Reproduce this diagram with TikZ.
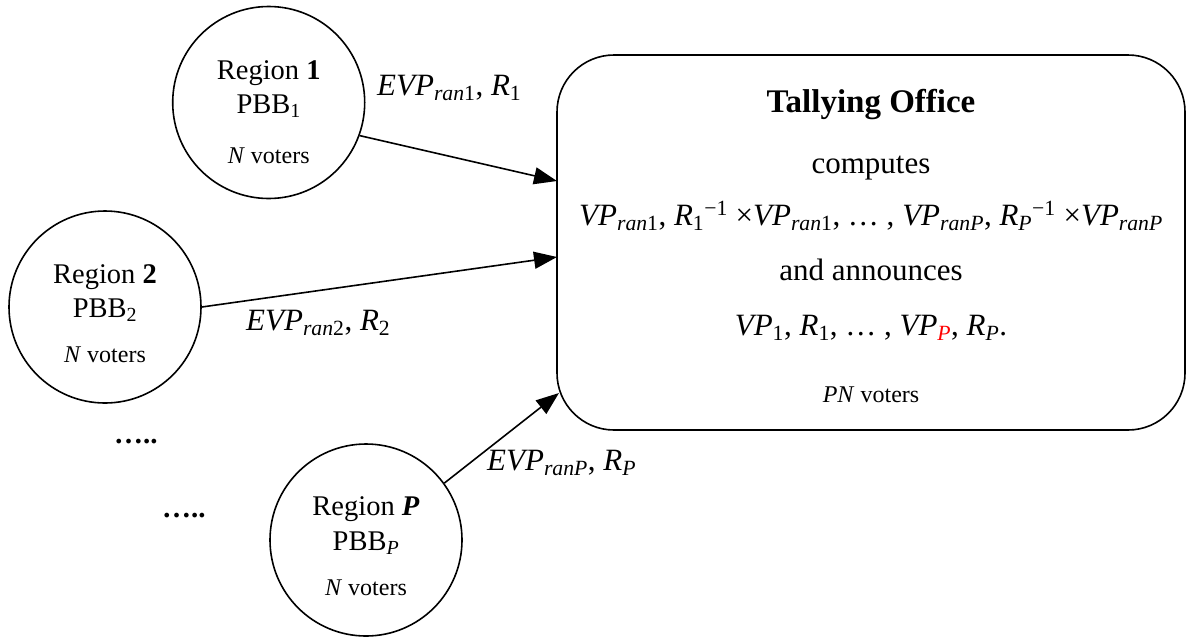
\documentclass[tikz,border=0pt]{standalone}
\usepackage{fontspec}
\setmainfont{Liberation Serif}
\usetikzlibrary{arrows.meta}
\newcommand\myfs[1]{\fontsize{#1}{#1}\selectfont}
\begin{document}
\begin{tikzpicture}[x=1pt,y=-1pt,
  region/.style={draw, circle, line width=1.6pt, minimum size=192pt, inner sep=0pt},
  ctext/.style={anchor=base, inner sep=0pt, font=\myfs{28.5}},
  vtext/.style={anchor=base, inner sep=0pt, font=\myfs{24}},
  btext/.style={anchor=base, inner sep=0pt, font=\myfs{31}},
  ttext/.style={anchor=base, inner sep=0pt, font=\myfs{33}\bfseries},
  lbl/.style={anchor=base west, inner sep=0pt, font=\myfs{31}},
  dots/.style={anchor=base west, inner sep=0pt, font=\myfs{29}\bfseries},
  conn/.style={line width=1.6pt, -{Triangle[length=23pt,width=17pt]}},
  office/.style={draw, line width=1.6pt, rounded corners=57pt, minimum width=628pt, minimum height=375pt, inner sep=0pt}
]
\useasboundingbox (0,0) rectangle (1190,638);

% office box
\node[office] (box) at (871,242.5) {};
\node[ttext] (title) at (871,112) {Tallying Office};
\node[btext] (comp) at (871,173) {computes};
\node[btext] (form) at (871,225) {\textit{VP}\textsubscript{\textit{ran}1}, \textit{R}\textsubscript{1}\textsuperscript{−1} ×\textit{VP}\textsubscript{\textit{ran}1}, … , \textit{VP}\textsubscript{\textit{ranP}}, \textit{R}\textsubscript{\textit{P}}\textsuperscript{−1} ×\textit{VP}\textsubscript{\textit{ranP}}};
\node[btext] (ann) at (871,280) {and announces};
\node[btext] (res) at (871,335) {\textit{VP}\textsubscript{1}, \textit{R}\textsubscript{1}, … , \textit{VP}\textsubscript{\textcolor{red}{\textit{P}}}, \textit{R}\textsubscript{\textit{P}}.};
\node[vtext] (pn) at (871,402) {\textit{PN} voters};

% regions
\node[region] (c1) at (268.7,102.5) {};
\node[ctext] (c1a) at (268.7,79) {Region \textbf{1}};
\node[ctext] (c1b) at (268.7,113) {PBB\textsubscript{1}};
\node[vtext] (c1c) at (268.7,163) {\textit{N} voters};

\node[region] (c2) at (105,307) {};
\node[ctext] (c2a) at (105,283) {Region \textbf{2}};
\node[ctext] (c2b) at (105,317) {PBB\textsubscript{2}};
\node[vtext] (c2c) at (105,362) {\textit{N} voters};

\node[region] (cP) at (366,540) {};
\node[ctext] (cPa) at (366,515) {Region \textbf{\textit{P}}};
\node[ctext] (cPb) at (366,550) {PBB\textsubscript{\textit{P}}};
\node[vtext] (cPc) at (366,595) {\textit{N} voters};

% dots
\node[dots] (d1) at (114,443) {…..};
\node[dots] (d2) at (162,517) {…..};

% arrow end points on the office box
\coordinate (t1) at (557,181);
\coordinate (t2) at (557,257);
\coordinate (t3) at (559,393);

\draw[conn] (c1.-20) -- (t1);
\draw[conn] (c2.east) -- (t2);
\draw[conn] (cP.36) -- (t3);

% labels
\node[lbl] (l1) at (377,95) {\textit{EVP}\textsubscript{\textit{ran}1}, \textit{R}\textsubscript{1}};
\node[lbl] (l2) at (246,330) {\textit{EVP}\textsubscript{\textit{ran}2}, \textit{R}\textsubscript{2}};
\node[lbl] (l3) at (487,470) {\textit{EVP}\textsubscript{\textit{ranP}}, \textit{R}\textsubscript{\textit{P}}};
\end{tikzpicture}
\end{document}
